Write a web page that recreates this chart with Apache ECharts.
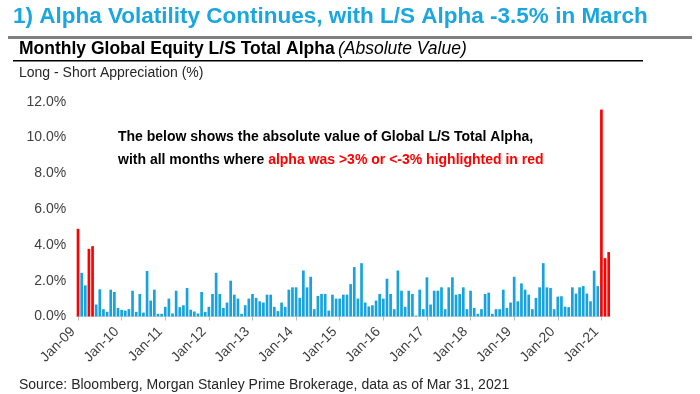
<!DOCTYPE html>
<html>
<head>
<meta charset="utf-8">
<script src="https://cdn.jsdelivr.net/npm/echarts@6/dist/echarts.min.js"></script>
<style>
html,body{margin:0;padding:0;background:#fff;}
#chart{width:700px;height:394px;}
</style>
</head>
<body>
<div id="chart"></div>
<script>
// ---- data ----
const tickLabels = ["Jan-09","Jan-10","Jan-11","Jan-12","Jan-13","Jan-14","Jan-15","Jan-16","Jan-17","Jan-18","Jan-19","Jan-20","Jan-21"];
const monthNames = ["Jan","Feb","Mar","Apr","May","Jun","Jul","Aug","Sep","Oct","Nov","Dec"];
// monthly absolute L/S total alpha (%), Jan-09 .. Mar-21
const alphaValues = [
  4.90, 2.44, 1.74, 3.78, 3.93, 0.67, 1.52, 0.41, 0.26, 1.50, 1.37, 0.48,  // 2009
  0.37, 0.33, 0.41, 1.44, 0.26, 1.26, 0.22, 2.54, 0.89, 1.50, 0.15, 0.15,  // 2010
  0.54, 1.00, 0.17, 1.44, 0.52, 0.63, 1.59, 0.38, 0.28, 0.17, 1.37, 0.26,  // 2011
  0.54, 1.26, 2.44, 1.26, 0.48, 0.78, 2.00, 1.22, 1.00, 0.15, 0.63, 1.00,  // 2012
  1.26, 1.04, 0.85, 0.78, 1.22, 1.22, 0.54, 0.30, 0.78, 0.54, 1.50, 1.63,  // 2013
  1.63, 1.04, 2.57, 1.63, 2.22, 0.41, 1.15, 1.26, 1.26, 0.33, 1.22, 1.00,  // 2014
  1.00, 1.22, 1.22, 1.81, 2.76, 1.00, 2.98, 0.78, 0.56, 0.63, 0.89, 1.26,  // 2015
  1.00, 2.11, 1.26, 0.41, 2.57, 1.44, 0.54, 1.44, 1.26, 0.05, 1.50, 0.41,  // 2016
  2.19, 0.67, 1.44, 1.44, 1.63, 0.41, 1.63, 2.19, 1.22, 1.26, 1.63, 0.41,  // 2017
  1.44, 0.48, 0.15, 0.41, 1.26, 1.33, 0.15, 0.41, 0.41, 1.50, 0.48, 0.78,  // 2018
  2.22, 0.85, 1.85, 1.50, 1.22, 0.41, 1.04, 1.63, 2.98, 1.63, 1.59, 0.41,  // 2019
  1.11, 1.13, 0.55, 0.52, 1.63, 1.28, 1.63, 1.70, 1.28, 0.85, 2.56, 1.70,  // 2020
  11.56, 3.26, 3.60                                                        // 2021
];
const threshold = 3;
const yTicks = [0, 2, 4, 6, 8, 10, 12];

// categories built from tick labels (years) and month names
const categories = [];
tickLabels.forEach(function (t) {
  const yy = t.split('-')[1];
  monthNames.forEach(function (m) { categories.push(m + '-' + yy); });
});
categories.length = alphaValues.length;

const FONT = "'Liberation Sans', Arial, sans-serif";
const BLUE = '#18A3DE';
const RED = '#FF0000';

const chart = echarts.init(document.getElementById('chart'), null, {renderer: 'canvas'});
chart.setOption({
  animation: false,
  backgroundColor: '#ffffff',
  grid: { left: 76.2, right: 89.5, top: 101.7, bottom: 77.5 },
  xAxis: {
    type: 'category',
    data: categories,
    axisLine: { show: true, lineStyle: { color: '#d9d9d9', width: 1 } },
    axisTick: { show: true, interval: 11, alignWithLabel: true, length: 4, lineStyle: { color: '#bfbfbf' } },
    axisLabel: {
      interval: 11, rotate: 45, margin: 18, verticalAlign: 'bottom',
      fontFamily: FONT, fontSize: 14, color: '#404040'
    },
    splitLine: { show: false }
  },
  yAxis: {
    type: 'value',
    min: yTicks[0], max: yTicks[yTicks.length - 1], interval: 2,
    axisLine: { show: false },
    axisTick: { show: false },
    splitLine: { show: false },
    axisLabel: {
      margin: 10, fontFamily: FONT, fontSize: 14, color: '#404040',
      formatter: function (v) { return v.toFixed(1) + '%'; }
    }
  },
  series: [{
    type: 'bar',
    data: alphaValues,
    barCategoryGap: '26%',
    itemStyle: {
      color: function (p) { return p.value > threshold ? RED : BLUE; }
    }
  }],
  graphic: [
    { type: 'text', left: 13, top: 5,
      style: { text: '1) Alpha Volatility Continues, with L/S Alpha -3.5% in March',
               font: "bold 22.5px " + FONT, fill: '#1AA6E0' } },
    { type: 'rect', shape: { x: 8, y: 36, width: 684, height: 3 }, style: { fill: '#808080' } },
    { type: 'text', left: 19, top: 40,
      style: { text: '{b|Monthly Global Equity L/S Total Alpha} {i|(Absolute Value)}',
               rich: {
                 b: { font: "bold 17.5px " + FONT, fill: '#000' },
                 i: { font: "italic 17.5px " + FONT, fill: '#000' }
               } } },
    { type: 'rect', shape: { x: 13, y: 60, width: 630, height: 1.5 }, style: { fill: '#000' } },
    { type: 'text', left: 19, top: 66,
      style: { text: 'Long - Short Appreciation (%)', font: "14px " + FONT, fill: '#262626' } },
    { type: 'text', left: 118, top: 130,
      style: { text: 'The below shows the absolute value of Global L/S Total Alpha,',
               font: "bold 14px " + FONT, fill: '#000' } },
    { type: 'text', left: 118, top: 153,
      style: { text: '{k|with all months where }{r|alpha was >3% or <-3% highlighted in red}',
               rich: {
                 k: { font: "bold 14px " + FONT, fill: '#000' },
                 r: { font: "bold 14px " + FONT, fill: RED }
               } } },
    { type: 'text', left: 19, top: 378,
      style: { text: 'Source: Bloomberg, Morgan Stanley Prime Brokerage, data as of Mar 31, 2021',
               font: "14px " + FONT, fill: '#262626' } }
  ]
});
</script>
</body>
</html>
